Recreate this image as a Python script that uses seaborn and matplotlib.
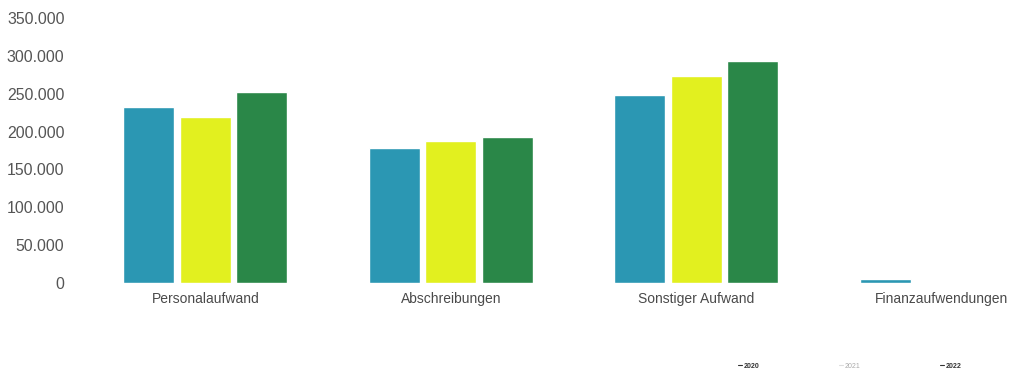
import matplotlib
matplotlib.use("Agg")
import matplotlib.pyplot as plt
import seaborn as sns
import pandas as pd
from matplotlib.lines import Line2D
from matplotlib.ticker import FuncFormatter

categories = ["Personalaufwand", "Abschreibungen", "Sonstiger Aufwand", "Finanzaufwendungen"]
years = ["2020", "2021", "2022"]
values_2020 = [232000, 178000, 248000, 5000]
values_2021 = [219000, 187000, 273000, 0]
values_2022 = [252000, 193000, 293000, 0]
colors = ["#2b97b3", "#e2f01f", "#2a8748"]

rows = []
for yr, vals in zip(years, [values_2020, values_2021, values_2022]):
    for c, v in zip(categories, vals):
        rows.append({"Kategorie": c, "Jahr": yr, "Wert": v})
df = pd.DataFrame(rows)

sns.set_theme(style="white")
plt.rcParams["font.family"] = ["Liberation Sans", "DejaVu Sans"]

fig = plt.figure(figsize=(10.11, 3.71), dpi=100)
ax = fig.add_axes([82.5 / 1011, 88 / 371, 928 / 1011, 265 / 371])

sns.barplot(data=df, x="Kategorie", y="Wert", hue="Jahr", palette=colors,
            width=0.69, gap=0.1, ax=ax, legend=False, saturation=1)

ax.set_xlim(-0.5, 3.28)
ax.set_ylim(0, 350000)
ax.set_yticks(range(0, 350001, 50000))
ax.yaxis.set_major_formatter(FuncFormatter(lambda v, p: f"{int(v):,}".replace(",", ".")))
ax.set_xlabel("")
ax.set_ylabel("")
for s in ax.spines.values():
    s.set_visible(False)
ax.tick_params(axis="y", length=0, pad=13, labelsize=11.4, labelcolor="#555555")
ax.tick_params(axis="x", length=0, pad=6.5, labelsize=10, labelcolor="#4a4a4a")
ax.grid(False)

handles = [Line2D([0], [0], color="#333333", lw=0.8),
           Line2D([0], [0], color="#dddddd", lw=0.8),
           Line2D([0], [0], color="#333333", lw=0.8)]
leg = fig.legend(handles, years, loc="center", bbox_to_anchor=(850 / 1011, 1 - 366 / 371),
                 ncol=3, frameon=False, fontsize=5, handlelength=0.5, handletextpad=0.3,
                 columnspacing=11.5)
txt = leg.get_texts()
txt[0].set_color("#333333"); txt[0].set_fontweight("bold")
txt[1].set_color("#aaaaaa")
txt[2].set_color("#333333"); txt[2].set_fontweight("bold")

fig.savefig("out.png", dpi=100, facecolor="white")
